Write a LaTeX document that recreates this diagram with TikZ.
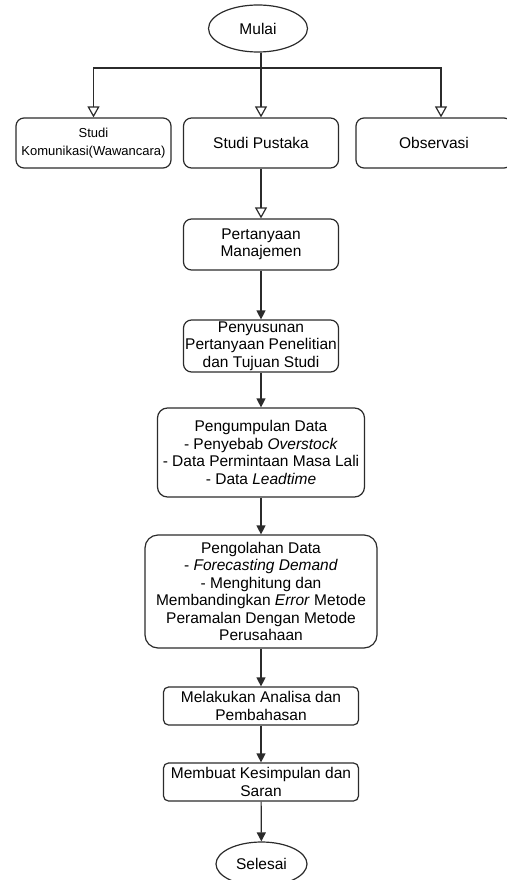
\documentclass[tikz,border=0pt]{standalone}
\usepackage{fontspec}
\setmainfont{Liberation Sans}
\usetikzlibrary{arrows.meta, positioning, shapes.geometric}
\definecolor{cline}{HTML}{2B2B2B}
\tikzset{
  every picture/.style={line width=1.2pt, x=1pt, y=-1pt},
  box/.style={draw=cline, rounded corners=#1, align=center, inner sep=1pt, font=\fontsize{15.5}{17.5}\selectfont},
  box/.default=8pt,
  terminal/.style={draw=cline, ellipse, inner sep=0pt, align=center, font=\fontsize{15.5}{17.5}\selectfont},
  arrow/.style={-{Triangle[length=9pt, width=9pt]}, draw=cline},
  openarrow/.style={-{Triangle[open, length=11pt, width=12pt]}, draw=cline},
}

\begin{document}
\begin{tikzpicture}
  \useasboundingbox (0,0) rectangle (506,880);
  % start and the three studies
  \node[terminal, minimum width=99pt, minimum height=47pt] (mulai) at (258,28.5) {Mulai};
  \node[box, minimum width=155pt, minimum height=50pt, font=\fontsize{13}{18}\selectfont] (komunikasi) at (93.5,143) {Studi\\Komunikasi(Wawancara)};
  \node[box, minimum width=155pt, minimum height=50pt] (pustaka) at (261,143) {Studi Pustaka};
  \node[box, minimum width=156pt, minimum height=50pt] (observasi) at (434,143) {Observasi};
  % main steps
  \node[box, minimum width=155pt, minimum height=51pt] (manajemen) at (261,244.5) {Pertanyaan\\Manajemen};
  \node[box, minimum width=155pt, minimum height=52pt] (penyusunan) at (261,346) {Penyusunan\\Pertanyaan Penelitian\\dan Tujuan Studi};
  \node[box=10pt, minimum width=207pt, minimum height=89pt] (pengumpulan) at (261,452.5) {Pengumpulan Data\\- Penyebab \textit{Overstock}\\- Data Permintaan Masa Lali\\- Data \textit{Leadtime}};
  \node[box=13pt, minimum width=232pt, minimum height=113pt] (pengolahan) at (261,591.5) {Pengolahan Data\\- \textit{Forecasting Demand}\\- Menghitung dan\\Membandingkan \textit{Error} Metode\\Peramalan Dengan Metode\\Perusahaan};
  \node[box=5pt, minimum width=195pt, minimum height=38pt] (analisa) at (261,706) {Melakukan Analisa dan\\Pembahasan};
  \node[box=5pt, minimum width=195pt, minimum height=38pt] (kesimpulan) at (261,782) {Membuat Kesimpulan dan\\Saran};
  \node[terminal, minimum width=91pt, minimum height=44pt] (selesai) at (261.5,864) {Selesai};
  % connectors
  \coordinate (cabang) at (261,68);
  \draw[cline] (mulai.south -| cabang) -- (cabang);
  \draw[openarrow] (cabang) -| (komunikasi.north);
  \draw[openarrow] (cabang) -- (pustaka);
  \draw[openarrow] (cabang) -| ([xshift=7pt]observasi.north);
  \draw[openarrow] (pustaka) -- (manajemen);
  \draw[arrow] (manajemen) -- (penyusunan);
  \draw[arrow] (penyusunan) -- (pengumpulan);
  \draw[arrow] (pengumpulan) -- (pengolahan);
  \draw[arrow] (pengolahan) -- (analisa);
  \draw[arrow] (analisa) -- (kesimpulan);
  \draw[arrow] (kesimpulan) -- (selesai);
\end{tikzpicture}
\end{document}
